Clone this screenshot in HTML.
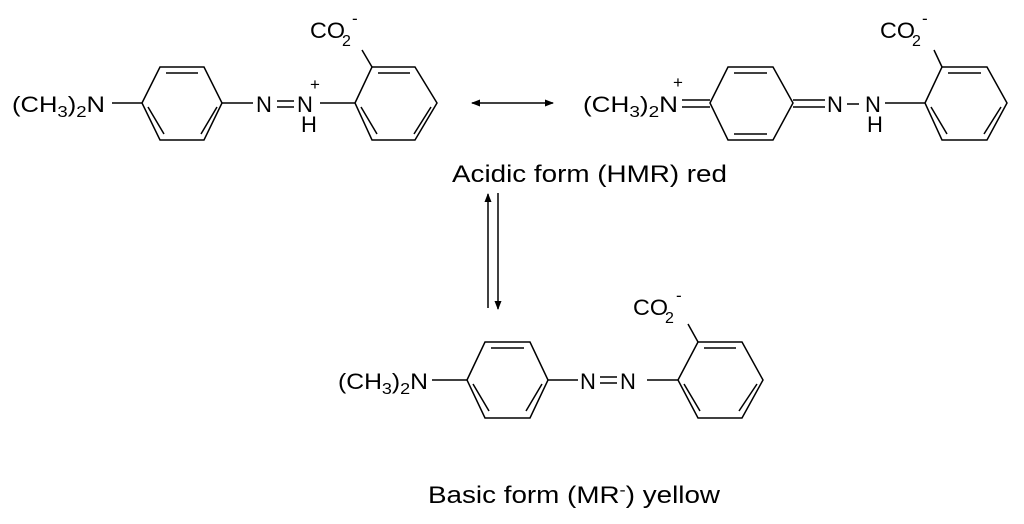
<!DOCTYPE html>
<html><head><meta charset="utf-8"><style>
html,body{margin:0;padding:0;background:#fff;}
svg{display:block;}
text{font-family:"Liberation Sans",sans-serif;fill:#000;}
</style></head><body>
<svg width="1024" height="524" viewBox="0 0 1024 524" xmlns="http://www.w3.org/2000/svg">
<defs>
<marker id="ah" markerWidth="9" markerHeight="7" refX="8" refY="3.5" orient="auto-start-reverse" markerUnits="userSpaceOnUse">
<path d="M0,0 L9,3.5 L0,7 z" fill="#000"/></marker>
</defs>
<g stroke="#000" stroke-width="1.5" fill="none">
<!-- Molecule 1 -->
<line x1="112" y1="103" x2="142" y2="103"/>
<polygon points="142,103 160,67 204,67 222,103 204,140 160,140"/>
<line x1="166" y1="73" x2="198" y2="73"/>
<line x1="148" y1="107" x2="164" y2="134"/>
<line x1="201" y1="134" x2="217" y2="107"/>
<line x1="222" y1="103" x2="253" y2="103"/>
<line x1="277" y1="101" x2="294" y2="101"/>
<line x1="277" y1="107" x2="294" y2="107"/>
<line x1="320" y1="103" x2="355" y2="103"/>
<polygon points="355,103 372,67 415,67 437,103 415,140 372,140"/>
<line x1="378" y1="73" x2="410" y2="73"/>
<line x1="361" y1="107" x2="377" y2="134"/>
<line x1="414" y1="134" x2="431" y2="107"/>
<line x1="372" y1="67" x2="362" y2="50"/>
<!-- resonance arrow -->
<line x1="472" y1="103" x2="553" y2="103" marker-end="url(#ah)" marker-start="url(#ah)"/>
<!-- Molecule 2 -->
<line x1="682" y1="100" x2="710" y2="100"/>
<line x1="682" y1="107" x2="710" y2="107"/>
<polygon points="710,103 728,67 773,67 793,103 773,140 728,140"/>
<line x1="734" y1="73" x2="767" y2="73"/>
<line x1="734" y1="134" x2="767" y2="134"/>
<line x1="793" y1="100" x2="825" y2="100"/>
<line x1="793" y1="107" x2="825" y2="107"/>
<line x1="847" y1="104" x2="859" y2="104"/>
<line x1="885" y1="103" x2="925" y2="103"/>
<polygon points="925,103 942,67 987,67 1007,103 987,140 942,140"/>
<line x1="948" y1="73" x2="981" y2="73"/>
<line x1="931" y1="107" x2="947" y2="134"/>
<line x1="984" y1="134" x2="1001" y2="107"/>
<line x1="942" y1="67" x2="934" y2="50"/>
<!-- equilibrium arrows -->
<line x1="488" y1="308" x2="488" y2="194" marker-end="url(#ah)"/>
<line x1="498" y1="193" x2="498" y2="309" marker-end="url(#ah)"/>
<!-- Molecule 3 -->
<line x1="432" y1="380" x2="467" y2="380"/>
<polygon points="467,380 485,342 530,342 548,380 530,418 485,418"/>
<line x1="491" y1="348" x2="524" y2="348"/>
<line x1="473" y1="384" x2="489" y2="411"/>
<line x1="526" y1="411" x2="542" y2="384"/>
<line x1="548" y1="380" x2="578" y2="380"/>
<line x1="600" y1="377" x2="617" y2="377"/>
<line x1="600" y1="383" x2="617" y2="383"/>
<line x1="647" y1="380" x2="678" y2="380"/>
<polygon points="678,380 698,342 742,342 763,380 742,418 698,418"/>
<line x1="704" y1="348" x2="736" y2="348"/>
<line x1="684" y1="384" x2="700" y2="411"/>
<line x1="739" y1="411" x2="757" y2="384"/>
<line x1="698" y1="342" x2="688" y2="324"/>
</g>
<g style="font-size:22px">
<!-- Mol 1 text -->
<text x="12" y="112" textLength="93" lengthAdjust="spacingAndGlyphs">(CH<tspan style="font-size:16px" dy="5">3</tspan><tspan dy="-5">)</tspan><tspan style="font-size:16px" dy="5">2</tspan><tspan dy="-5">N</tspan></text>
<text x="256" y="112">N</text>
<text x="297" y="112">N</text>
<text x="310" y="90" style="font-size:17px">+</text>
<text x="301" y="132">H</text>
<text x="310" y="38" textLength="35" lengthAdjust="spacingAndGlyphs">CO</text>
<text x="342" y="46" style="font-size:16px">2</text>
<text x="352" y="24" style="font-size:17px">-</text>
<!-- Mol 2 text -->
<text x="583" y="112" textLength="95" lengthAdjust="spacingAndGlyphs">(CH<tspan style="font-size:16px" dy="5">3</tspan><tspan dy="-5">)</tspan><tspan style="font-size:16px" dy="5">2</tspan><tspan dy="-5">N</tspan></text>
<text x="673" y="88" style="font-size:17px">+</text>
<text x="827" y="112">N</text>
<text x="865" y="112">N</text>
<text x="867" y="132">H</text>
<text x="880" y="38" textLength="35" lengthAdjust="spacingAndGlyphs">CO</text>
<text x="912" y="46" style="font-size:16px">2</text>
<text x="922" y="24" style="font-size:17px">-</text>
<!-- Mol 3 text -->
<text x="338" y="389" textLength="90" lengthAdjust="spacingAndGlyphs">(CH<tspan style="font-size:16px" dy="5">3</tspan><tspan dy="-5">)</tspan><tspan style="font-size:16px" dy="5">2</tspan><tspan dy="-5">N</tspan></text>
<text x="580" y="389">N</text>
<text x="620" y="389">N</text>
<text x="633" y="315" textLength="35" lengthAdjust="spacingAndGlyphs">CO</text>
<text x="665" y="323" style="font-size:16px">2</text>
<text x="676" y="301" style="font-size:17px">-</text>
<!-- labels -->
<text x="452" y="182" style="font-size:24px" textLength="275" lengthAdjust="spacingAndGlyphs">Acidic form (HMR) red</text>
<text x="428" y="503" style="font-size:24px" textLength="292" lengthAdjust="spacingAndGlyphs">Basic form (MR<tspan style="font-size:16px" dy="-8">-</tspan><tspan dy="8">) yellow</tspan></text>
</g>
</svg>
</body></html>
